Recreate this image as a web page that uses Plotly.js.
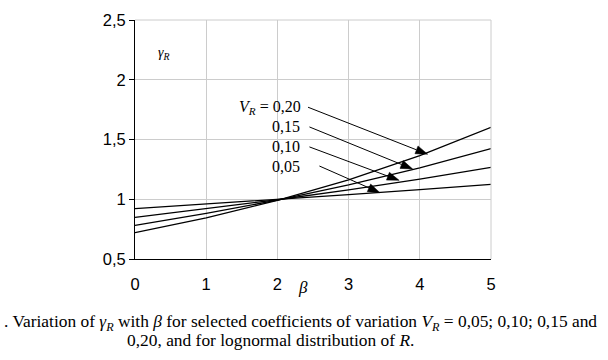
<!DOCTYPE html>
<html>
<head>
<meta charset="utf-8">
<script src="https://cdn.plot.ly/plotly-3.0.1.min.js"></script>
<style>
html,body{margin:0;padding:0;background:#fff;}
#chart{width:608px;height:360px;}
</style>
</head>
<body>
<div id="chart"></div>
<script>
// Data
var beta = [0, 1, 2, 3, 4, 5];
var vr005 = [0.921, 0.959, 0.998, 1.039, 1.081, 1.125];
var vr010 = [0.848, 0.919, 0.996, 1.078, 1.168, 1.266];
var vr015 = [0.781, 0.881, 0.993, 1.120, 1.263, 1.424];
var vr020 = [0.720, 0.845, 0.991, 1.163, 1.365, 1.602];
var seriesNames = ['V_R = 0,05', 'V_R = 0,10', 'V_R = 0,15', 'V_R = 0,20'];
var labelTexts = ['0,05', '0,10', '0,15', '<i>V</i><sub><i>R</i></sub> = 0,20'];
var labelX = [2.34, 2.34, 2.34, 2.36];
var labelY = [1.278, 1.438, 1.605, 1.77];
var arrowTailX = [2.59, 2.45, 2.45, 2.43];
var arrowTailY = [1.278, 1.438, 1.605, 1.77];
var arrowTipX = [3.44, 3.71, 3.90, 4.11];
var arrowTipY = [1.055, 1.158, 1.253, 1.377];
var yTickVals = [0.5, 1, 1.5, 2, 2.5];
var yTickText = ['0,5', '1', '1,5', '2', '2,5'];
var xTickVals = [0, 1, 2, 3, 4, 5];
var xTickText = ['0', '1', '2', '3', '4', '5'];

var L = 135, R = 116.5, T = 20, B = 100.7;
var W = 608, H = 360;
var pw = W - L - R, ph = H - T - B;
var xRange = [0, 5], yRange = [0.5, 2.5];
var sx = pw / (xRange[1] - xRange[0]);   // px per x unit
var sy = ph / (yRange[1] - yRange[0]);   // px per y unit

var allSeries = [vr005, vr010, vr015, vr020];
var traces = allSeries.map(function (ys, i) {
  return {
    x: beta, y: ys, type: 'scatter', mode: 'lines', name: seriesNames[i],
    line: {color: '#000000', width: 1.3}, hoverinfo: 'skip'
  };
});

var serif = 'Liberation Serif, Times New Roman, serif';
var sans = 'Liberation Sans, Arial, sans-serif';
var annotations = [];
var shapes = [
  {type: 'line', xref: 'paper', yref: 'paper', x0: 0, x1: 1, y0: 1, y1: 1, line: {color: '#cccccc', width: 1}},
  {type: 'line', xref: 'paper', yref: 'paper', x0: 1, x1: 1, y0: 0, y1: 1, line: {color: '#cccccc', width: 1}}
];
var headLen = 12, headHalf = 4.2;
for (var i = 0; i < 4; i++) {
  annotations.push({
    x: labelX[i], y: labelY[i], xref: 'x', yref: 'y', text: labelTexts[i],
    showarrow: false, xanchor: 'right', yanchor: 'middle',
    font: {family: serif, size: 16, color: '#000'}
  });
  // arrow shaft + head built from the arrow arrays in data space
  var dxp = (arrowTipX[i] - arrowTailX[i]) * sx;
  var dyp = (arrowTipY[i] - arrowTailY[i]) * sy;
  var len = Math.sqrt(dxp * dxp + dyp * dyp);
  var ux = dxp / len, uy = dyp / len;
  var bx = arrowTipX[i] - ux * headLen / sx, by = arrowTipY[i] - uy * headLen / sy;
  var p1x = bx - uy * headHalf / sx, p1y = by + ux * headHalf / sy;
  var p2x = bx + uy * headHalf / sx, p2y = by - ux * headHalf / sy;
  shapes.push({
    type: 'line', xref: 'x', yref: 'y',
    x0: arrowTailX[i], y0: arrowTailY[i], x1: bx, y1: by,
    line: {color: '#000', width: 1}
  });
  shapes.push({
    type: 'path', xref: 'x', yref: 'y',
    path: 'M ' + arrowTipX[i] + ' ' + arrowTipY[i] + ' L ' + p1x + ' ' + p1y + ' L ' + p2x + ' ' + p2y + ' Z',
    fillcolor: '#000', line: {color: '#000', width: 0.5}
  });
}
annotations.push({
  x: 0.3, y: 2.22, xref: 'x', yref: 'y', xanchor: 'left', yanchor: 'middle',
  text: '<i>γ</i><sub><i>R</i></sub>', showarrow: false,
  font: {family: serif, size: 14, color: '#000'}
});
function px2paperX(p) { return (p - L) / pw; }
function px2paperY(p) { return (H - B - p) / ph; }
annotations.push({
  x: px2paperX(303.5), y: px2paperY(288), xref: 'paper', yref: 'paper',
  yanchor: 'middle', xanchor: 'center',
  text: '<i>β</i>', showarrow: false,
  font: {family: serif, size: 17, color: '#000'}
});
annotations.push({
  x: px2paperX(2), y: px2paperY(322.5), xref: 'paper', yref: 'paper', xanchor: 'left', yanchor: 'middle',
  text: '. Variation of <i>γ</i><sub><i>R</i></sub> with <i>β</i> for selected coefficients of variation <i>V</i><sub><i>R</i></sub> = 0,05; 0,10; 0,15 and',
  showarrow: false, font: {family: serif, size: 17.4, color: '#000'}
});
annotations.push({
  x: px2paperX(270.5), y: px2paperY(340.5), xref: 'paper', yref: 'paper', xanchor: 'center', yanchor: 'middle',
  text: '0,20, and for lognormal distribution of <i>R</i>.',
  showarrow: false, font: {family: serif, size: 17.4, color: '#000'}
});

var layout = {
  width: W, height: H,
  margin: {l: L, r: R, t: T, b: B, pad: 0},
  paper_bgcolor: '#fff', plot_bgcolor: '#fff',
  showlegend: false,
  font: {family: sans, size: 16.5, color: '#000'},
  xaxis: {
    range: xRange, tickvals: xTickVals, ticktext: xTickText,
    showgrid: true, gridcolor: '#cccccc', gridwidth: 1,
    showline: true, linecolor: '#000', linewidth: 1,
    ticks: '', ticklabelstandoff: 10, zeroline: false, fixedrange: true,
    tickfont: {family: sans, size: 16.5, color: '#000'}
  },
  yaxis: {
    range: yRange, tickvals: yTickVals, ticktext: yTickText,
    showgrid: true, gridcolor: '#cccccc', gridwidth: 1,
    showline: true, linecolor: '#000', linewidth: 1,
    ticks: 'outside', ticklen: 5, tickcolor: '#000', tickwidth: 1,
    zeroline: false, fixedrange: true,
    tickfont: {family: sans, size: 16.5, color: '#000'}
  },
  annotations: annotations,
  shapes: shapes
};

Plotly.newPlot('chart', traces, layout, {staticPlot: true, displayModeBar: false});
</script>
</body>
</html>
